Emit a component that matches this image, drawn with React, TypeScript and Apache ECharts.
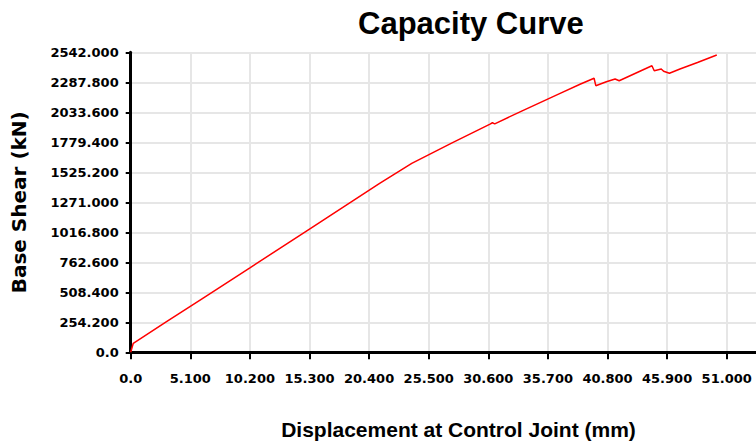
import React, { useEffect, useRef } from "react";
import * as echarts from "echarts";

// Pushover capacity curve: roof displacement (mm) vs. base shear (kN)
const displacement = [
  0, 0.22, 3.0, 6.2, 10.2, 15.3, 21.3, 24.05, 27.5, 30.75, 30.95, 31.15, 33.5,
  36.7, 38.45, 39.65, 39.8, 40.7, 41.45, 41.8, 44.6, 44.8, 45.4, 45.6, 46.1,
  47.0, 48.5, 50.15,
];
const baseShear = [
  0, 76, 255, 460, 716, 1044, 1432, 1601, 1775, 1934, 1945, 1936, 2046, 2192,
  2271, 2322, 2259, 2293, 2316, 2301, 2428, 2386, 2400, 2382, 2364, 2400, 2456,
  2519,
];

const xTicks = { min: 0, max: 56.1, step: 5.1 };
const yTicks = { min: 0, max: 2542, step: 254.2 };

const NARROW = "'Liberation Sans', Arial, sans-serif";
const WIDE = "'DejaVu Sans', Verdana, sans-serif";

const fmt = (v: number) => (Math.abs(v) < 1e-9 ? "0.0" : v.toFixed(3));

export default function App() {
  const ref = useRef<HTMLDivElement>(null);

  useEffect(() => {
    document.body.style.margin = "0";
    if (!ref.current) return;
    const chart = echarts.init(ref.current, undefined, { renderer: "svg" });
    const points = displacement.map((d, i) => [d, baseShear[i]]);

    chart.setOption({
      animation: false,
      backgroundColor: "#ffffff",
      title: {
        text: "Capacity Curve",
        left: 353,
        top: 3,
        textStyle: {
          fontFamily: NARROW,
          fontSize: 31,
          fontWeight: "bold",
          color: "#000000",
        },
      },
      grid: {
        left: 130.7,
        top: 52.3,
        height: 300,
        width: 655.6,
        containLabel: false,
        outerBoundsMode: "none",
      },
      xAxis: {
        type: "value",
        min: xTicks.min,
        max: xTicks.max,
        interval: xTicks.step,
        name: "Displacement at Control Joint (mm)",
        nameLocation: "middle",
        nameGap: 67,
        nameTextStyle: {
          fontFamily: NARROW,
          fontSize: 21,
          fontWeight: "bold",
          color: "#000000",
        },
        axisLine: { show: true, onZero: false, lineStyle: { color: "#000", width: 3 } },
        axisTick: { show: true, length: 7, lineStyle: { color: "#000", width: 2 } },
        axisLabel: {
          margin: 20,
          showMaxLabel: false,
          formatter: fmt,
          fontFamily: WIDE,
          fontSize: 13,
          fontWeight: "bold",
          color: "#000000",
        },
        splitLine: { show: true, lineStyle: { color: "#e6e6e6", width: 2 } },
      },
      yAxis: {
        type: "value",
        min: yTicks.min,
        max: yTicks.max,
        interval: yTicks.step,
        name: "Base Shear (kN)",
        nameLocation: "middle",
        nameGap: 102,
        nameRotate: 90,
        nameTextStyle: {
          fontFamily: WIDE,
          fontSize: 20,
          fontWeight: "bold",
          color: "#000000",
        },
        axisLine: { show: true, lineStyle: { color: "#000", width: 3 } },
        axisTick: { show: true, length: 5, lineStyle: { color: "#000", width: 2 } },
        axisLabel: {
          margin: 12,
          formatter: fmt,
          fontFamily: WIDE,
          fontSize: 13,
          fontWeight: "bold",
          color: "#000000",
        },
        splitLine: { show: true, lineStyle: { color: "#e6e6e6", width: 2 } },
      },
      series: [
        {
          type: "line",
          data: points,
          showSymbol: false,
          lineStyle: { color: "#ff0000", width: 1.5 },
          z: 3,
        },
      ],
    });

    return () => chart.dispose();
  }, []);

  return <div ref={ref} style={{ width: 756, height: 447 }} />;
}
